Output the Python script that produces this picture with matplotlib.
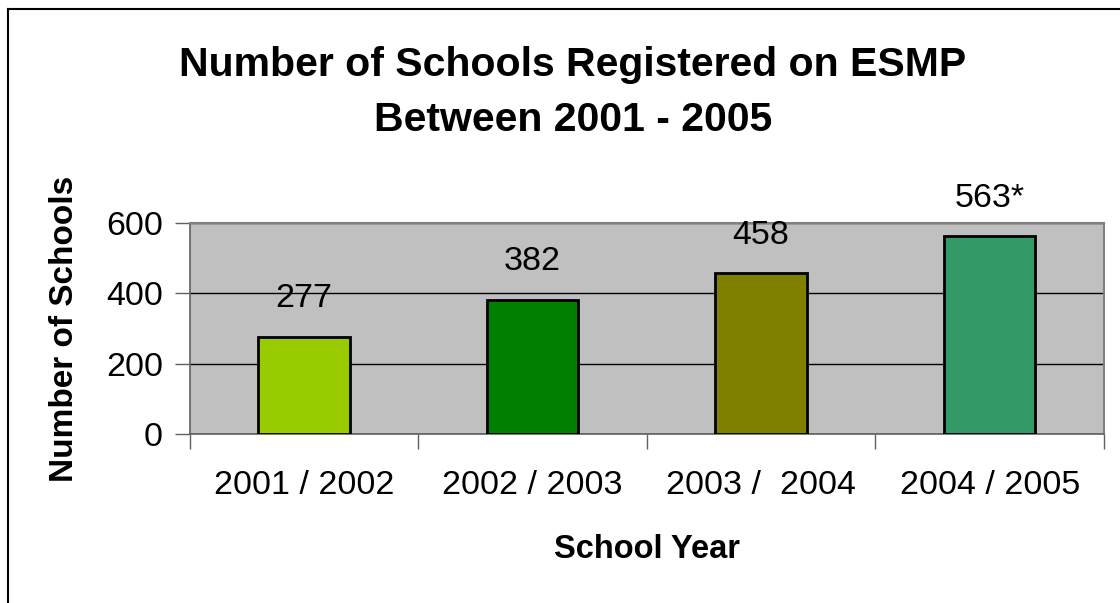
# Schools registered on ESMP, 2001 - 2005.
import matplotlib.pyplot as plt
from matplotlib.lines import Line2D

plt.rcParams['font.family'] = ['Liberation Sans', 'DejaVu Sans']

# Data.
years = ['2001 / 2002', '2002 / 2003', '2003 /  2004', '2004 / 2005']
schools = [277, 382, 458, 563]
bar_labels = ['277', '382', '458', '563*']
bar_colors = ['#99CC00', '#008000', '#808000', '#339966']
y_ticks = [0, 200, 400, 600]

fig = plt.figure(figsize=(11.2, 6.03), dpi=100)
ax = fig.add_axes([189.5 / 1120, 1 - 433.5 / 603, (1104 - 189.5) / 1120, 210 / 603])
ax.set_facecolor('#C0C0C0')

x = range(len(years))
ax.bar(x, schools, width=0.4, color=bar_colors, edgecolor='black',
	linewidth=2, zorder=3)

for i, v in enumerate(schools):
	ax.annotate(bar_labels[i], xy=(i, v), xytext=(0, 38), textcoords='offset pixels',
		ha='center', va='center', fontsize=24.5, zorder=4)

ax.set_xlim(-0.5, 3.5)
ax.set_ylim(0, 600)
ax.set_yticks(y_ticks)
ax.set_yticklabels([str(t) for t in y_ticks], fontsize=24.5)
ax.yaxis.grid(True, color='black', linewidth=1, zorder=1)
ax.set_axisbelow(True)

# Category boundaries as x ticks, labels in the middle.
ax.set_xticks([-0.5, 0.5, 1.5, 2.5, 3.5])
ax.set_xticklabels([])
ax.set_xticks(list(x), minor=True)
ax.set_xticklabels(years, minor=True, fontsize=24.5)
ax.tick_params(axis='x', which='minor', length=0, pad=26)
ax.tick_params(axis='x', which='major', length=11, width=1, color='#606060')
ax.tick_params(axis='y', length=11, width=1, color='#606060', pad=8)

for side in ['top', 'right']:
	ax.spines[side].set_color('#808080')
	ax.spines[side].set_linewidth(1.5)
for side in ['left', 'bottom']:
	ax.spines[side].set_color('#606060')
	ax.spines[side].set_linewidth(1.2)

ax.set_ylabel('Number of Schools', fontsize=24, fontweight='bold', labelpad=19)
ax.set_xlabel('School Year', fontsize=23.5, fontweight='bold', labelpad=24)

fig.text(573 / 1120, 1 - 92.5 / 603, 'Number of Schools Registered on ESMP\nBetween 2001 - 2005',
	ha='center', va='center', fontsize=29.5, fontweight='bold', linespacing=1.55)

# Figure frame, only top and left are visible.
fig.add_artist(Line2D([7.5 / 1120, 7.5 / 1120], [0, 1 - 8.5 / 603], color='black', linewidth=1.5))
fig.add_artist(Line2D([7.5 / 1120, 1], [1 - 8.5 / 603, 1 - 8.5 / 603], color='black', linewidth=1.5))

fig.savefig('out.png', dpi=100)
